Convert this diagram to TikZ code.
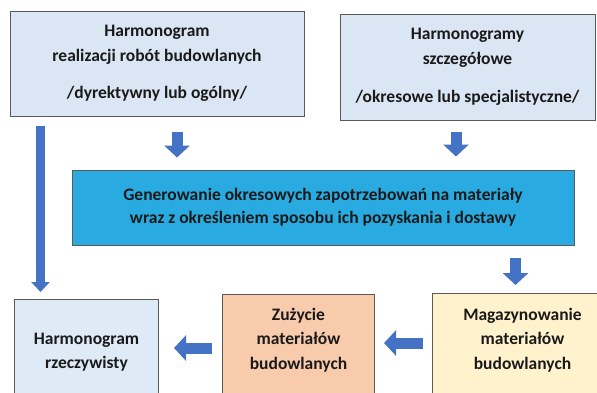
\documentclass[tikz,border=0pt]{standalone}
\usepackage{fontspec}
\setmainfont{Carlito}
\usetikzlibrary{arrows.meta}
\definecolor{topblue}{HTML}{DAE6F4}
\definecolor{midblue}{HTML}{29ABE2}
\definecolor{realblue}{HTML}{DEEBF7}
\definecolor{usepeach}{HTML}{F8CBAD}
\definecolor{storecream}{HTML}{FFF2CC}
\definecolor{boxgray}{HTML}{5A5A5A}
\definecolor{arrowblue}{HTML}{4472C4}
\definecolor{textblack}{HTML}{1A1A1A}

\begin{document}
\begin{tikzpicture}[x=1pt,y=-1pt,
    box/.style={draw=boxgray, line width=1pt, inner sep=0pt, align=center,
      text=textblack, font=\bfseries\fontsize{17.5}{25}\selectfont},
    txt/.style={inner sep=0pt, align=center, text=textblack,
      font=\bfseries\fontsize{17.5}{24.5}\selectfont},
    blockarrow/.style={arrowblue, line width=11pt, -{Triangle[width=25pt,length=12pt]}}]
    \useasboundingbox (0,0) rectangle (597,392);
    \clip (0,0) rectangle (597,392);
    % top row
    \node[box, fill=topblue, minimum width=294pt, minimum height=105pt] (plan) at (157,63.5)
        {Harmonogram\\realizacji robót budowlanych\\[12pt]/dyrektywny lub ogólny/};
    \node[box, fill=topblue, minimum width=255pt, minimum height=106pt] (detail) at (467.5,67)
        {Harmonogramy\\szczegółowe\\[13pt]/okresowe lub specjalistyczne/};
    % middle
    \node[box, fill=midblue, minimum width=502pt, minimum height=75pt, font=\bfseries\fontsize{17.5}{23}\selectfont] (demand) at (323,207.5)
        {Generowanie okresowych zapotrzebowań na materiały\\wraz z określeniem sposobu ich pozyskania i dostawy};
    % bottom row
    \node[box, fill=realblue, anchor=north west, minimum width=144pt, minimum height=130pt] (real) at (14,299) {};
    \node[box, fill=usepeach, anchor=north west, minimum width=152pt, minimum height=130pt] (use) at (222,294) {};
    \node[box, fill=storecream, anchor=north west, minimum width=180pt, minimum height=130pt] (store) at (432,293) {};
    \node[txt] (realtxt) at ([yshift=-53pt]real.north) {Harmonogram\\rzeczywisty};
    \node[txt] (usetxt) at ([yshift=-46pt]use.north) {Zużycie\\materiałów\\budowlanych};
    \node[txt] (storetxt) at ([yshift=-47pt]store.north) {Magazynowanie\\materiałów\\budowlanych};
    % arrows
    \draw[blockarrow, shorten <=15pt, shorten >=12pt] ([xshift=20pt]plan.south) -- ([xshift=20pt]plan.south |- demand.north);
    \draw[blockarrow, shorten <=11pt, shorten >=13pt] ([xshift=-11.5pt]detail.south) -- ([xshift=-11.5pt]detail.south |- demand.north);
    \draw[blockarrow, line width=9pt, -{Triangle[width=18pt,length=10pt]}, shorten <=9pt, shorten >=7pt]
        ([xshift=31pt]plan.south west) -- ([xshift=31pt]plan.south west |- real.north);
    \draw[blockarrow, shorten <=12pt, shorten >=8pt] ([xshift=-59pt]demand.south east) -- ([xshift=-59pt]demand.south east |- store.north);
    \draw[blockarrow, shorten <=9pt, shorten >=9pt] ([yshift=-50pt]store.north west) -- ([yshift=-50pt]store.north west -| use.east);
    \draw[blockarrow, shorten <=10pt, shorten >=15pt] ([yshift=-54pt]use.north west) -- ([yshift=-54pt]use.north west -| real.east);
\end{tikzpicture}
\end{document}
